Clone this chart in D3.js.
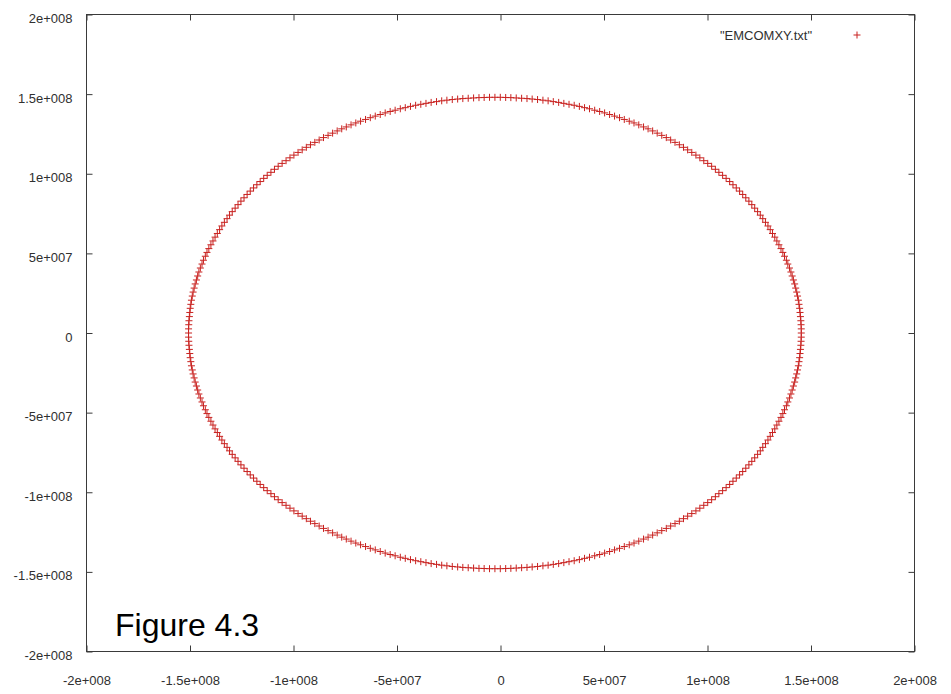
<!DOCTYPE html>
<html>
<head>
<meta charset="utf-8">
<script src="https://cdn.jsdelivr.net/npm/d3@7"></script>
<style>
  html, body { margin: 0; padding: 0; background: #fff; }
  svg { display: block; }
  text { font-family: "Liberation Sans", Arial, sans-serif; }
</style>
</head>
<body>
<svg id="chart" width="951" height="694"></svg>
<script>
// ---- Data (positions in millions of km) ----
const seriesName = '"EMCOMXY.txt"';
const figureLabel = "Figure 4.3";
const UNIT = 1e6;

const xs = [
145.3,145.3,145.2,145.1,144.9,144.7,144.5,144.2,143.9,143.5,143.1,142.6,142.1,141.5,140.9,140.3,139.6,138.8,138.1,137.2,136.4,135.5,134.5,133.5,132.5,131.4,130.3,129.2,128.0,126.7,125.5,124.2,122.8,121.4,120.0,118.5,117.0,115.5,113.9,112.3,110.7,109.0,107.3,105.5,103.8,102.0,100.1,98.2,96.3,94.4,92.4,90.4,88.4,86.4,84.3,82.2,80.1,77.9,75.7,73.5,71.3,69.1,66.8,64.5,62.2,59.8,57.5,55.1,52.7,50.3,47.9,45.5,43.0,40.6,38.1,35.6,33.1,30.6,28.1,25.5,23.0,20.5,17.9,15.3,12.8,10.2,7.6,5.0,2.5,-0.1,-2.7,
-5.3,-7.9,-10.4,-13.0,-15.6,-18.2,-20.7,-23.3,-25.9,-28.4,-30.9,-33.5,-36.0,-38.5,-41.0,-43.5,-46.0,-48.4,-50.9,-53.3,-55.7,-58.1,-60.5,-62.9,-65.2,-67.6,-69.9,-72.2,-74.5,-76.7,-78.9,-81.1,-83.3,-85.5,-87.6,-89.7,-91.8,-93.8,-95.8,-97.8,-99.8,-101.7,-103.6,-105.5,-107.4,-109.2,-110.9,-112.7,-114.4,-116.1,-117.7,-119.3,-120.9,-122.4,-123.9,-125.4,-126.8,-128.2,-129.6,-130.9,-132.1,-133.4,-134.6,-135.7,-136.8,-137.9,-138.9,-139.9,-140.9,-141.8,-142.6,-143.5,-144.2,-145.0,-145.7,-146.3,-146.9,-147.5,-148.0,-148.5,-148.9,-149.3,-149.6,-149.9,-150.1,-150.3,-150.5,-150.6,-150.7,-150.7,
-150.7,-150.6,-150.5,-150.3,-150.1,-149.9,-149.6,-149.3,-148.9,-148.5,-148.0,-147.5,-146.9,-146.3,-145.7,-145.0,-144.2,-143.5,-142.6,-141.8,-140.9,-139.9,-138.9,-137.9,-136.8,-135.7,-134.6,-133.4,-132.1,-130.9,-129.6,-128.2,-126.8,-125.4,-123.9,-122.4,-120.9,-119.3,-117.7,-116.1,-114.4,-112.7,-110.9,-109.2,-107.4,-105.5,-103.6,-101.7,-99.8,-97.8,-95.8,-93.8,-91.8,-89.7,-87.6,-85.5,-83.3,-81.1,-78.9,-76.7,-74.5,-72.2,-69.9,-67.6,-65.2,-62.9,-60.5,-58.1,-55.7,-53.3,-50.9,-48.4,-46.0,-43.5,-41.0,-38.5,-36.0,-33.5,-30.9,-28.4,-25.9,-23.3,-20.7,-18.2,-15.6,-13.0,-10.4,-7.9,-5.3,
-2.7,-0.1,2.5,5.0,7.6,10.2,12.8,15.3,17.9,20.5,23.0,25.5,28.1,30.6,33.1,35.6,38.1,40.6,43.0,45.5,47.9,50.3,52.7,55.1,57.5,59.8,62.2,64.5,66.8,69.1,71.3,73.5,75.7,77.9,80.1,82.2,84.3,86.4,88.4,90.4,92.4,94.4,96.3,98.2,100.1,102.0,103.8,105.5,107.3,109.0,110.7,112.3,113.9,115.5,117.0,118.5,120.0,121.4,122.8,124.2,125.5,126.7,128.0,129.2,130.3,131.4,132.5,133.5,134.5,135.5,136.4,137.2,138.1,138.8,139.6,140.3,140.9,141.5,142.1,142.6,143.1,143.5,143.9,144.2,144.5,144.7,144.9,145.1,145.2,145.3
];

const ys = [
0.0,2.6,5.2,7.7,10.3,12.9,15.5,18.0,20.6,23.2,25.7,28.2,30.8,33.3,35.8,38.3,40.8,43.3,45.7,48.2,50.6,53.0,55.4,57.8,60.2,62.5,64.9,67.2,69.5,71.8,74.0,76.2,78.4,80.6,82.8,84.9,87.0,89.1,91.1,93.1,95.1,97.1,99.0,100.9,102.8,104.7,106.5,108.2,110.0,111.7,113.4,115.0,116.6,118.2,119.7,121.2,122.7,124.1,125.5,126.9,128.2,129.4,130.7,131.9,133.0,134.1,135.2,136.2,137.2,138.2,139.1,139.9,140.8,141.5,142.3,143.0,143.6,144.2,144.8,145.3,145.8,146.2,146.6,146.9,147.2,147.4,147.6,147.8,147.9,148.0,148.0,
148.0,147.9,147.8,147.6,147.4,147.2,146.9,146.6,146.2,145.8,145.3,144.8,144.2,143.6,143.0,142.3,141.5,140.8,139.9,139.1,138.2,137.2,136.2,135.2,134.1,133.0,131.9,130.7,129.4,128.2,126.9,125.5,124.1,122.7,121.2,119.7,118.2,116.6,115.0,113.4,111.7,110.0,108.2,106.5,104.7,102.8,100.9,99.0,97.1,95.1,93.1,91.1,89.1,87.0,84.9,82.8,80.6,78.4,76.2,74.0,71.8,69.5,67.2,64.9,62.5,60.2,57.8,55.4,53.0,50.6,48.2,45.7,43.3,40.8,38.3,35.8,33.3,30.8,28.2,25.7,23.2,20.6,18.0,15.5,12.9,10.3,7.7,5.2,2.6,
0.0,
-2.6,-5.2,-7.7,-10.3,-12.9,-15.5,-18.0,-20.6,-23.2,-25.7,-28.2,-30.8,-33.3,-35.8,-38.3,-40.8,-43.3,-45.7,-48.2,-50.6,-53.0,-55.4,-57.8,-60.2,-62.5,-64.9,-67.2,-69.5,-71.8,-74.0,-76.2,-78.4,-80.6,-82.8,-84.9,-87.0,-89.1,-91.1,-93.1,-95.1,-97.1,-99.0,-100.9,-102.8,-104.7,-106.5,-108.2,-110.0,-111.7,-113.4,-115.0,-116.6,-118.2,-119.7,-121.2,-122.7,-124.1,-125.5,-126.9,-128.2,-129.4,-130.7,-131.9,-133.0,-134.1,-135.2,-136.2,-137.2,-138.2,-139.1,-139.9,-140.8,-141.5,-142.3,-143.0,-143.6,-144.2,-144.8,-145.3,-145.8,-146.2,-146.6,-146.9,-147.2,-147.4,-147.6,-147.8,-147.9,-148.0,-148.0,
-148.0,-147.9,-147.8,-147.6,-147.4,-147.2,-146.9,-146.6,-146.2,-145.8,-145.3,-144.8,-144.2,-143.6,-143.0,-142.3,-141.5,-140.8,-139.9,-139.1,-138.2,-137.2,-136.2,-135.2,-134.1,-133.0,-131.9,-130.7,-129.4,-128.2,-126.9,-125.5,-124.1,-122.7,-121.2,-119.7,-118.2,-116.6,-115.0,-113.4,-111.7,-110.0,-108.2,-106.5,-104.7,-102.8,-100.9,-99.0,-97.1,-95.1,-93.1,-91.1,-89.1,-87.0,-84.9,-82.8,-80.6,-78.4,-76.2,-74.0,-71.8,-69.5,-67.2,-64.9,-62.5,-60.2,-57.8,-55.4,-53.0,-50.6,-48.2,-45.7,-43.3,-40.8,-38.3,-35.8,-33.3,-30.8,-28.2,-25.7,-23.2,-20.6,-18.0,-15.5,-12.9,-10.3,-7.7,-5.2,-2.6
];

const xTickValues = [-2e8, -1.5e8, -1e8, -5e7, 0, 5e7, 1e8, 1.5e8, 2e8];
const xTickLabels = ["-2e+008", "-1.5e+008", "-1e+008", "-5e+007", "0", "5e+007", "1e+008", "1.5e+008", "2e+008"];
const yTickValues = [-2e8, -1.5e8, -1e8, -5e7, 0, 5e7, 1e8, 1.5e8, 2e8];
const yTickLabels = ["-2e+008", "-1.5e+008", "-1e+008", "-5e+007", "0", "5e+007", "1e+008", "1.5e+008", "2e+008"];

// ---- Layout ----
const svg = d3.select("#chart");
const L = 86.5, R = 914.5, T = 14.5, B = 651.5;
const pointColor = "#c8201e";
const axisColor = "#3a3a3a";
const textColor = "#303030";

const x = d3.scaleLinear().domain([-2e8, 2e8]).range([L, R]);
const y = d3.scaleLinear().domain([-2e8, 2e8]).range([B, T]);

const points = d3.range(Math.min(xs.length, ys.length)).map(i => ({ x: xs[i] * UNIT, y: ys[i] * UNIT }));

// Axes (ticks inward, mirrored on all four sides)
const tickLen = 6;
const fmtX = d => xTickLabels[xTickValues.indexOf(d)];
const fmtY = d => yTickLabels[yTickValues.indexOf(d)];

const xb = svg.append("g").attr("transform", `translate(0,${B})`)
  .call(d3.axisBottom(x).tickValues(xTickValues).tickFormat(fmtX).tickSize(-tickLen).tickPadding(33));
const xt = svg.append("g").attr("transform", `translate(0,${T})`)
  .call(d3.axisTop(x).tickValues(xTickValues).tickFormat("").tickSize(-tickLen));
const yl = svg.append("g").attr("transform", `translate(${L},0)`)
  .call(d3.axisLeft(y).tickValues(yTickValues).tickFormat(fmtY).tickSize(-tickLen).tickPadding(14));
const yr = svg.append("g").attr("transform", `translate(${R},0)`)
  .call(d3.axisRight(y).tickValues(yTickValues).tickFormat("").tickSize(-tickLen));

[xb, xt, yl, yr].forEach(g => {
  g.select(".domain").remove();
  g.selectAll(".tick line").attr("stroke", axisColor).attr("stroke-width", 1);
  g.selectAll(".tick text")
    .attr("fill", textColor)
    .attr("font-size", 13)
    .attr("font-family", "'Liberation Sans', Arial, sans-serif");
});
yl.selectAll(".tick text").attr("dy", "0.62em").attr("x", -14);
xb.selectAll(".tick text").attr("dy", "0");

// Frame
svg.append("rect")
  .attr("x", L).attr("y", T)
  .attr("width", R - L).attr("height", B - T)
  .attr("fill", "none").attr("stroke", axisColor).attr("stroke-width", 1);

// Points as "+" markers
const plus = "M-3.5,0H3.5M0,-3.5V3.5";
svg.append("g").selectAll("path.pt")
  .data(points)
  .join("path")
  .attr("class", "pt")
  .attr("d", plus)
  .attr("transform", d => `translate(${x(d.x)},${y(d.y)})`)
  .attr("fill", "none")
  .attr("stroke", pointColor)
  .attr("stroke-width", 1);

// Legend
svg.append("text")
  .attr("x", 812).attr("y", 40)
  .attr("text-anchor", "end")
  .attr("font-size", 13)
  .attr("fill", textColor)
  .text(seriesName);
svg.append("path")
  .attr("d", plus)
  .attr("transform", "translate(857,35)")
  .attr("fill", "none")
  .attr("stroke", pointColor)
  .attr("stroke-width", 1);

// Figure label
svg.append("text")
  .attr("x", 115).attr("y", 636)
  .attr("font-size", 32)
  .attr("fill", "#000")
  .text(figureLabel);
</script>
</body>
</html>
